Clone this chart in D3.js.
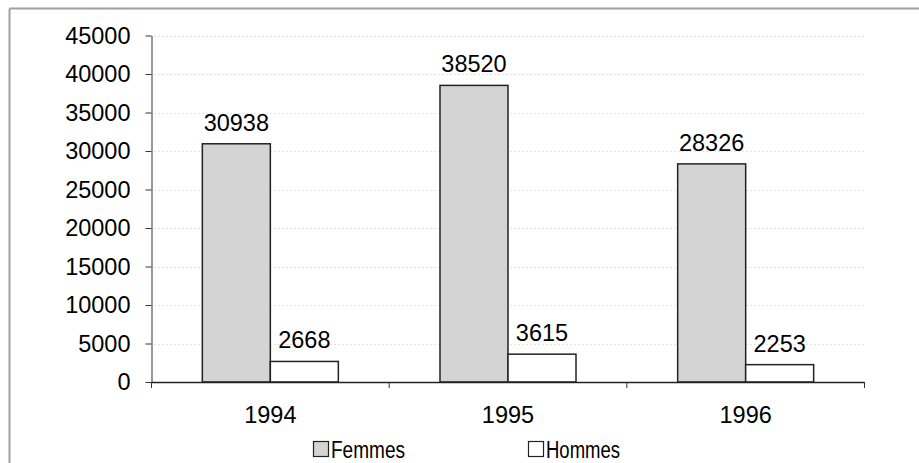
<!DOCTYPE html>
<html><head><meta charset="utf-8">
<script src="https://cdn.jsdelivr.net/npm/d3@7"></script>
<style>body{margin:0;background:#fff;}svg{display:block;font-family:"Liberation Sans",Arial,sans-serif;}</style>
</head><body><div id="chart"></div>
<script>
const categories = ["1994", "1995", "1996"];
const seriesNames = ["Femmes", "Hommes"];
const femmes = [30938, 38520, 28326];
const hommes = [2668, 3615, 2253];
const yTicks = [0, 5000, 10000, 15000, 20000, 25000, 30000, 35000, 40000, 45000];
const colors = ["#d4d4d4", "#ffffff"];

const W = 919, H = 463;
const FS = 23.5;
const svg = d3.select("#chart").append("svg").attr("width", W).attr("height", H);

// outer frame (top and left edges)
svg.append("line").attr("x1", 9.5).attr("x2", W).attr("y1", 8.5).attr("y2", 8.5).attr("stroke", "#a0a0a0").attr("stroke-width", 2);
svg.append("line").attr("x1", 9.5).attr("x2", 9.5).attr("y1", 8.5).attr("y2", H).attr("stroke", "#a0a0a0").attr("stroke-width", 2);

const x0 = 151.5, x1 = 864.5, yTop = 35.5, yBot = 382;
const x = d3.scaleBand().domain(categories).range([x0, x1]).paddingInner(0).paddingOuter(0);
const y = d3.scaleLinear().domain([0, 45000]).range([yBot, yTop]);
const barW = 68;
const xs = d3.scaleBand().domain(seriesNames).range([0, barW * 2]);

// gridlines
svg.append("g").selectAll("line").data(yTicks.filter(d => d > 0)).join("line")
  .attr("x1", x0 + 3).attr("x2", x1).attr("y1", d => Math.round(y(d)) + 0.5).attr("y2", d => Math.round(y(d)) + 0.5)
  .attr("stroke", "#c8c8c8").attr("stroke-width", 1).attr("stroke-dasharray", "1,3");

// y axis
const yAxis = d3.axisLeft(y).tickValues(yTicks).tickFormat(d3.format("d")).tickSize(6).tickPadding(15).tickSizeOuter(0);
const gy = svg.append("g").attr("transform", `translate(${x0},0)`).call(yAxis);
gy.select(".domain").attr("stroke", "#333");
gy.selectAll(".tick line").attr("stroke", "#333");
gy.selectAll("text").attr("font-size", FS).attr("fill", "#000").attr("font-family", "Liberation Sans, Arial, sans-serif");

// bars
const data = categories.map((c, i) => ({c, vals: [femmes[i], hommes[i]]}));
const groups = svg.append("g").selectAll("g").data(data).join("g")
  .attr("transform", d => `translate(${x(d.c) + (x.bandwidth() - barW * 2) / 2},0)`);
groups.selectAll("rect").data(d => d.vals.map((v, j) => ({v, s: seriesNames[j], j}))).join("rect")
  .attr("x", d => xs(d.s)).attr("width", xs.bandwidth())
  .attr("y", d => y(d.v)).attr("height", d => yBot - y(d.v))
  .attr("fill", d => colors[d.j]).attr("stroke", "#222").attr("stroke-width", 1.5);
groups.selectAll("text").data(d => d.vals.map((v, j) => ({v, s: seriesNames[j], j}))).join("text")
  .attr("x", d => xs(d.s) + xs.bandwidth() / 2).attr("y", d => y(d.v) - 13)
  .attr("text-anchor", "middle").attr("font-size", FS).attr("fill", "#000")
  .text(d => d.v);

// x axis
const gx = svg.append("g").attr("transform", `translate(0,${yBot})`);
gx.append("line").attr("x1", x0).attr("x2", x1).attr("y1", 0.5).attr("y2", 0.5).attr("stroke", "#222").attr("stroke-width", 1.5);
gx.selectAll(".sep").data(d3.range(categories.length + 1)).join("line").attr("class", "sep")
  .attr("x1", i => x0 + i * x.bandwidth()).attr("x2", i => x0 + i * x.bandwidth())
  .attr("y1", 0).attr("y2", 6).attr("stroke", "#333");
gx.selectAll(".lbl").data(categories).join("text").attr("class", "lbl")
  .attr("x", d => x(d) + x.bandwidth() / 2).attr("y", 41)
  .attr("text-anchor", "middle").attr("font-size", FS).attr("fill", "#000").text(d => d);

// legend
const legendX = [313, 528];
const lg = svg.append("g").selectAll("g").data(seriesNames).join("g")
  .attr("transform", (d, i) => `translate(${legendX[i]},441)`);
lg.append("rect").attr("x", 0.5).attr("y", 0.5).attr("width", 15).attr("height", 15)
  .attr("fill", (d, i) => colors[i]).attr("stroke", "#222").attr("stroke-width", 1.2);
lg.append("text").attr("x", 18).attr("y", 16.5).attr("font-size", FS).attr("fill", "#000")
  .attr("textLength", 74).attr("lengthAdjust", "spacingAndGlyphs").text(d => d);
</script></body></html>
